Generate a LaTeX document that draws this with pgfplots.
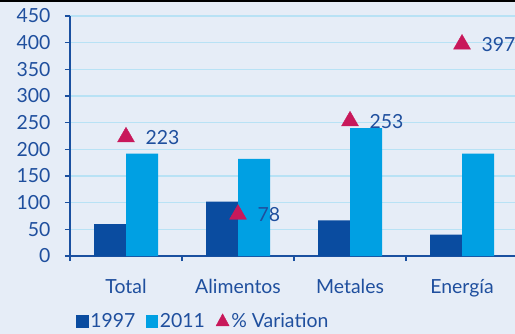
\documentclass[border=0pt]{standalone}
\usepackage{fontspec}
\setmainfont{Lato}
\usepackage{pgfplots}
\pgfplotsset{compat=1.18}
\definecolor{bgc}{HTML}{E6EDF7}
\definecolor{axc}{HTML}{1A50A0}
\definecolor{textc}{HTML}{1F4F9E}
\definecolor{darkbar}{HTML}{0A4CA0}
\definecolor{lightbar}{HTML}{00A0E3}
\definecolor{tri}{HTML}{C8185A}
\definecolor{gridc}{HTML}{B8E2F5}
\newcommand\lblfont{\fontsize{19.5}{22}\selectfont}
\begin{document}
\begin{tikzpicture}
\fill[bgc] (0,0) rectangle (515bp,334bp);
\fill[black] (0,332bp) rectangle (515bp,334bp);
\begin{axis}[
  at={(70bp,78bp)}, anchor=south west,
  scale only axis, width=445bp, height=240bp,
  xmin=-0.5, xmax=3.473, ymin=0, ymax=450,
  axis x line*=bottom, axis y line*=left,
  axis line style={draw=axc, line width=1.6bp, -},
  xtick={-0.5,0.5,1.5,2.5}, xticklabels={},
  extra x ticks={0,1,2,3},
  extra x tick labels={Total,Alimentos,Metales,Energía},
  extra x tick style={major tick length=0pt, tick label style={yshift=-20bp}},
  ytick={0,50,...,450},
  tick style={draw=axc, line width=1.2bp},
  major tick length=5bp, tick align=outside,
  ymajorgrids, grid style={draw=gridc, line width=1.2bp},
  tick label style={font=\lblfont, text=textc},
  yticklabel style={xshift=-11bp},
  /pgf/number format/assume math mode=true,
  legend style={at={(rel axis cs:0.013,-0.27)}, anchor=west, legend columns=3,
    draw=none, fill=none, inner sep=0pt, font=\lblfont, text=textc,
    nodes={inner xsep=2bp},
    /tikz/every even column/.append style={column sep=9bp}},
  legend cell align=left,
  clip=false,
]
\addlegendimage{legend image code/.code={\fill[darkbar] (0bp,-6bp) rectangle (12bp,6bp);}}
\addlegendentry{1997}
\addlegendimage{legend image code/.code={\fill[lightbar] (0bp,-6bp) rectangle (11bp,6bp);}}
\addlegendentry{2011}
\addlegendimage{legend image code/.code={\fill[tri] (0bp,-5bp) -- (13bp,-5bp) -- (6.5bp,7bp) -- cycle;}}
\addlegendentry{\% Variation}
\addplot[ybar, bar width=32bp, bar shift=-16bp, fill=darkbar, draw=none, forget plot]
  coordinates {(0,60) (1,102) (2,67) (3,40)};
\addplot[ybar, bar width=32bp, bar shift=16bp, fill=lightbar, draw=none, forget plot]
  coordinates {(0,192) (1,182) (2,240) (3,192)};
\addplot[only marks, mark=triangle*, mark size=9.8bp, color=tri, forget plot,
  nodes near coords,
  every node near coord/.append style={anchor=west, xshift=16bp, yshift=0bp, text=textc, font=\lblfont}]
  coordinates {(0,223) (1,78) (2,253) (3,397)};
\end{axis}
\pgfresetboundingbox
\useasboundingbox (0,0) rectangle (515bp,334bp);
\end{tikzpicture}
\end{document}
